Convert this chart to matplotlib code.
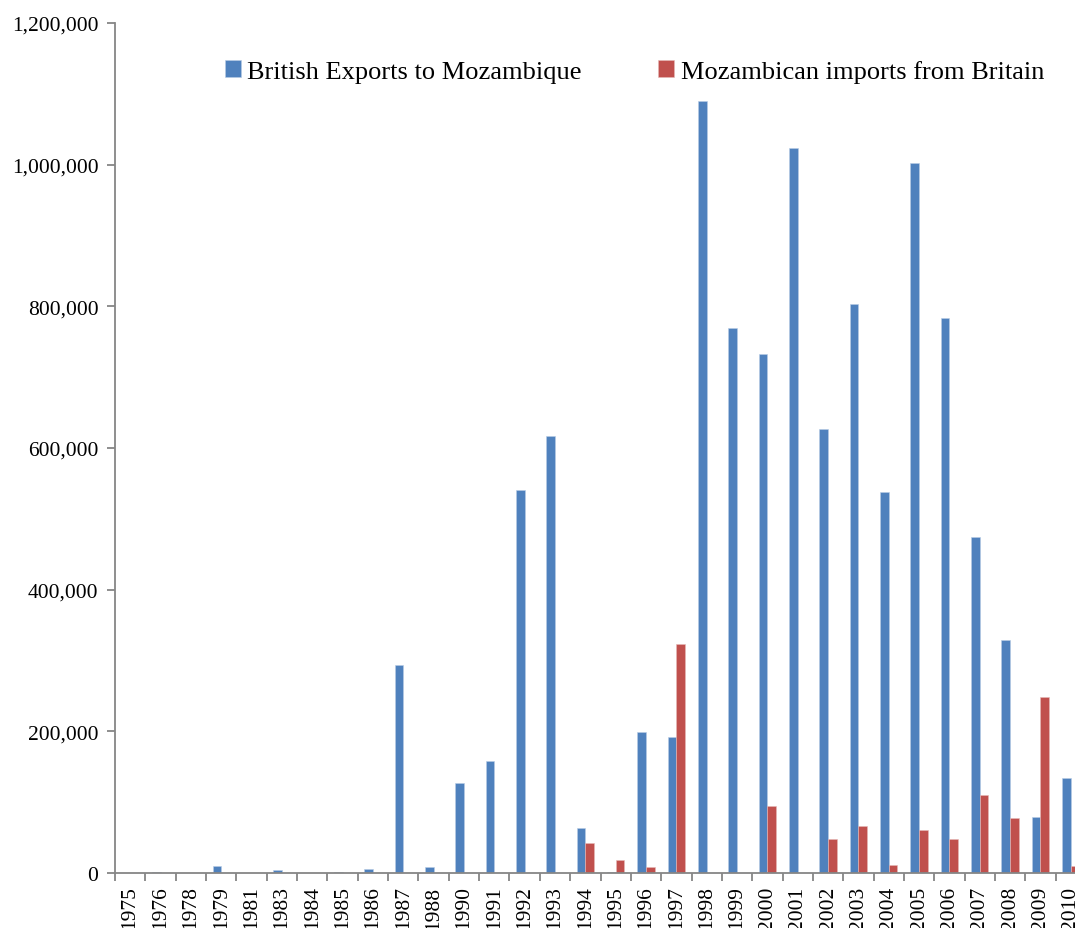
import numpy as np
import matplotlib.pyplot as plt
from matplotlib.ticker import FuncFormatter

plt.rcParams['font.family'] = ['Liberation Serif', 'DejaVu Serif']

years = ['1975', '1976', '1978', '1979', '1981', '1983', '1984', '1985', '1986',
         '1987', '1988', '1990', '1991', '1992', '1993', '1994', '1995', '1996',
         '1997', '1998', '1999', '2000', '2001', '2002', '2003', '2004', '2005',
         '2006', '2007', '2008', '2009', '2010']

# British exports to Mozambique
uk_exports = [0, 2000, 500, 9500, 300, 4700, 300, 1500, 5600,
              294000, 8000, 127000, 158000, 541000, 617000, 63000, 1500, 198500,
              192000, 1090000, 770000, 733000, 1024000, 627000, 804000, 538000, 1003000,
              783000, 474500, 329000, 79500, 133700]

# Mozambican imports from Britain
moz_imports = [0, 0, 0, 0, 0, 0, 0, 0, 0,
               0, 0, 0, 0, 0, 0, 42000, 18000, 9000,
               323300, 0, 0, 94600, 0, 48000, 66000, 11300, 60700,
               48000, 110000, 77000, 248000, 9500]

blue = '#4F81BD'
red = '#C0504D'
grey = '#868686'

fig = plt.figure(figsize=(10.75, 9.29), dpi=100)
ax = fig.add_axes([115 / 1075, 55 / 929, 971 / 1075, 850 / 929])

x = np.arange(len(years))
w = 1 / 3.5
ax.bar(x - w / 2, uk_exports, width=w, color=blue, edgecolor='#B9CDE5', linewidth=0.4,
       label='British Exports to Mozambique')
ax.bar(x + w / 2, moz_imports, width=w, color=red, edgecolor='#E6B9B8', linewidth=0.4,
       label='Mozambican imports from Britain')

ax.set_xlim(-0.5, len(years) - 0.5)
ax.set_ylim(0, 1200000)
ax.set_yticks(np.arange(0, 1200001, 200000))
ax.yaxis.set_major_formatter(FuncFormatter(lambda v, p: f'{int(v):,}'))

ax.set_xticks(x)
ax.set_xticklabels(years, rotation=90)
ax.set_xticks(np.arange(-0.5, len(years), 1), minor=True)
ax.tick_params(axis='x', which='major', length=0, pad=9, labelsize=15.5)
ax.tick_params(axis='x', which='minor', length=6, width=1.3, color=grey, direction='out')
ax.tick_params(axis='y', length=6, width=1.3, color=grey, labelsize=15.5, pad=6)

for s in ['top', 'right']:
    ax.spines[s].set_visible(False)
for s in ['left', 'bottom']:
    ax.spines[s].set_color(grey)
    ax.spines[s].set_linewidth(1.3)

fig.legend(loc='upper left', bbox_to_anchor=(225 / 1075, 1 - 61 / 929), ncol=2, frameon=False,
           fontsize=19, handlelength=0.6, handleheight=0.6, handletextpad=0.25,
           columnspacing=2.9, borderaxespad=0, borderpad=0)

fig.savefig('out.png', dpi=100)
